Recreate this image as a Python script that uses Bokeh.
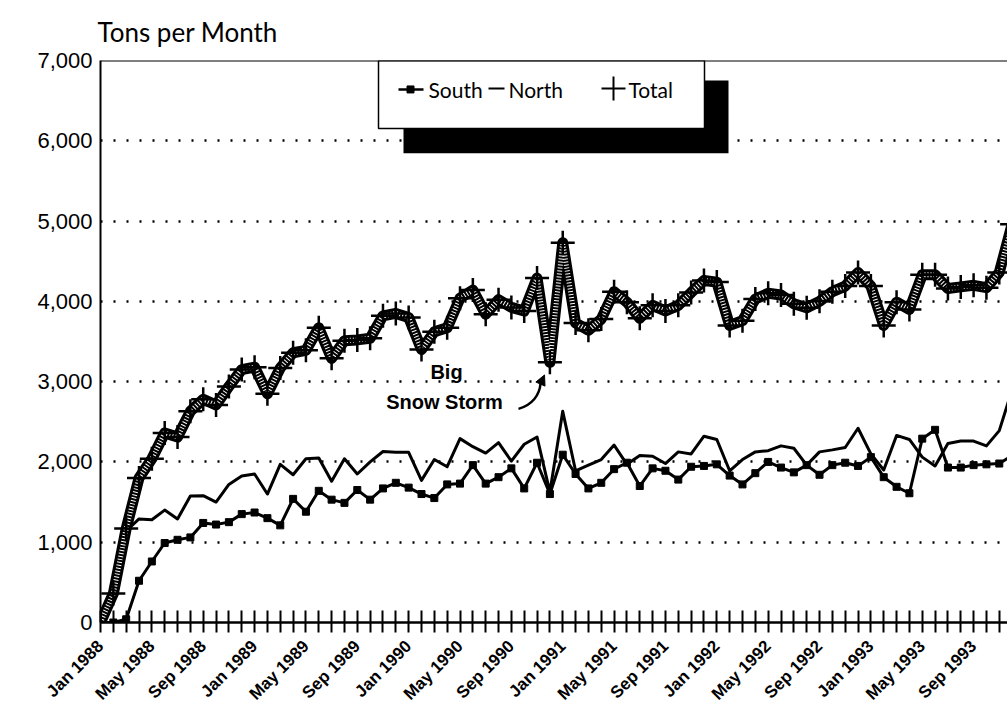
import math
from bokeh.plotting import figure
from bokeh.models import FixedTicker, NumeralTickFormatter, Span, Range1d, Arrow, NormalHead, Label
from bokeh.core.properties import value
from bokeh.embed import file_html
from bokeh.resources import INLINE

# ---------------- data (monthly, Jan 1988 .. Dec 1993) ----------------
tick_labels = ["Jan 1988", "May 1988", "Sep 1988", "Jan 1989", "May 1989", "Sep 1989",
               "Jan 1990", "May 1990", "Sep 1990", "Jan 1991", "May 1991", "Sep 1991",
               "Jan 1992", "May 1992", "Sep 1992", "Jan 1993", "May 1993", "Sep 1993"]

south = [0, 0, 40, 520, 760, 990, 1030, 1060, 1240, 1220,
         1250, 1350, 1370, 1300, 1210, 1540, 1380, 1640, 1530, 1490,
         1650, 1530, 1670, 1740, 1680, 1600, 1550, 1720, 1730, 1960,
         1730, 1810, 1920, 1670, 1990, 1600, 2090, 1850, 1670, 1740,
         1910, 1990, 1700, 1920, 1890, 1780, 1940, 1950, 1970, 1830,
         1720, 1860, 2000, 1930, 1870, 1960, 1840, 1960, 1990, 1950,
         2060, 1810, 1690, 1610, 2290, 2400, 1930, 1930, 1960, 1970,
         1980, 2080]

north = [0, 360, 1140, 1290, 1280, 1400, 1290, 1575, 1580, 1500,
         1720, 1825, 1850, 1600, 1970, 1840, 2040, 2050, 1760, 2040,
         1850, 2000, 2130, 2120, 2120, 1770, 2030, 1940, 2290, 2190,
         2110, 2240, 2010, 2220, 2310, 1625, 2630, 1890, 1960, 2030,
         2210, 1970, 2080, 2070, 1980, 2125, 2100, 2320, 2280, 1890,
         2030, 2125, 2140, 2200, 2170, 1960, 2125, 2150, 2180, 2420,
         2100, 1900, 2330, 2280, 2060, 1950, 2230, 2260, 2260, 2200,
         2390, 2900]

total = [0, 360, 1170, 1800, 2040, 2360, 2310, 2630, 2780, 2710,
         2940, 3150, 3180, 2850, 3170, 3360, 3390, 3670, 3290, 3510,
         3520, 3540, 3820, 3850, 3800, 3400, 3620, 3670, 4040, 4140,
         3840, 4020, 3925, 3880, 4290, 3240, 4730, 3730, 3640, 3780,
         4120, 3990, 3790, 3950, 3880, 3950, 4110, 4260, 4240, 3700,
         3760, 4030, 4100, 4080, 3970, 3920, 4000, 4120, 4190, 4360,
         4190, 3700, 3990, 3900, 4330, 4330, 4160, 4180, 4200, 4170,
         4360, 4960]

months = list(range(len(total)))
label_months = [4 * i for i in range(len(tick_labels))]

# ---------------- layout ----------------
W, H = 1007, 713
FL, FT, FB = 100, 60, 623          # frame edges in picture pixels
XMAX = 70.64
YMAX = 7000
FW = W - FL
FH = FB - FT

def dx(px):
    return (px - FL) / FW * XMAX

def dy(py):
    return (FB - py) / FH * YMAX

p = figure(width=W, height=H, output_backend="svg", toolbar_location=None,
           x_range=Range1d(0, XMAX), y_range=Range1d(0, YMAX),
           min_border_left=FL, min_border_right=0, min_border_top=FT,
           min_border_bottom=H - FB)
p.outline_line_color = None
p.background_fill_color = "white"
p.border_fill_color = "white"

p.title.text = "Tons per Month"
p.title.text_font = "Lato"
p.title.text_font_size = "26px"
p.title.text_font_style = "normal"
p.title.text_color = "black"
p.title.align = "left"
p.title.offset = -3
p.title.standoff = 26

# grid
p.xgrid.visible = False
p.ygrid.ticker = FixedTicker(ticks=[1000, 2000, 3000, 4000, 5000, 6000])
p.ygrid.grid_line_color = "black"
p.ygrid.grid_line_width = 2.5
p.ygrid.grid_line_dash = "2 11"

# y axis
p.yaxis.ticker = FixedTicker(ticks=list(range(0, 7001, 1000)))
p.yaxis.formatter = NumeralTickFormatter(format="0,0")
p.yaxis.major_label_text_font = "Liberation Sans"
p.yaxis.major_label_text_font_size = "22px"
p.yaxis.major_label_text_color = "black"
p.yaxis.major_tick_in = 0
p.yaxis.major_tick_out = 0
p.yaxis.minor_tick_in = 0
p.yaxis.minor_tick_out = 0
p.yaxis.axis_line_width = 2
p.yaxis.axis_line_color = "black"
p.yaxis.major_label_standoff = 8

# x axis: a tick every month (minor ticks), a label every fourth month
p.xaxis.ticker = FixedTicker(ticks=label_months, minor_ticks=months)
p.xaxis.major_label_overrides = {m: lab for m, lab in zip(label_months, tick_labels)}
p.xaxis.major_label_orientation = math.pi / 4
p.xaxis.major_label_text_font = "Liberation Sans"
p.xaxis.major_label_text_font_size = "17px"
p.xaxis.major_label_text_font_style = "bold"
p.xaxis.major_label_text_color = "black"
p.xaxis.major_label_standoff = 11
p.xaxis.major_tick_in = 0
p.xaxis.major_tick_out = 0
p.xaxis.minor_tick_in = 12
p.xaxis.minor_tick_out = 10
p.xaxis.minor_tick_line_width = 2
p.xaxis.minor_tick_line_color = "black"
p.xaxis.axis_line_width = 2.5
p.xaxis.axis_line_color = "black"

p.add_layout(Span(location=YMAX, dimension="width", line_color="black", line_width=2))

# ---------------- series ----------------
p.line(months, north, line_width=3, line_color="black", line_join="round")
p.line(months, south, line_width=3, line_color="black", line_join="round")
p.scatter(months, south, marker="square", size=7, fill_color="black", line_color="black")

p.line(months, total, line_width=11, line_color="black", line_join="round")
p.line(months, total, line_width=5, line_color="white", line_dash="1 2", line_join="round")
p.scatter(months, total, marker="cross", size=24, line_color="black", line_width=2.5)

# ---------------- annotation ----------------
p.add_layout(Label(x=dx(446), y=dy(383), text="Big", text_align="center",
                   text_font="Liberation Sans", text_font_size="20px",
                   text_font_style="bold", text_color="black"))
p.add_layout(Label(x=dx(444), y=dy(413), text="Snow Storm", text_align="center",
                   text_font="Liberation Sans", text_font_size="20px",
                   text_font_style="bold", text_color="black"))
p.bezier(x0=[dx(518)], y0=[dy(409)], x1=[dx(540)], y1=[dy(384)],
         cx0=[dx(532)], cy0=[dy(405)], cx1=[dx(539)], cy1=[dy(395)],
         line_color="black", line_width=2.5)
p.add_layout(Arrow(end=NormalHead(size=10, fill_color="black", line_color="black"),
                   x_start=dx(540), y_start=dy(384), x_end=dx(544), y_end=dy(375),
                   line_color="black", line_width=2.5))

# ---------------- legend (box with drop shadow) ----------------
p.quad(left=[dx(403)], right=[dx(728)], top=[dy(80)], bottom=[dy(153)],
       fill_color="black", line_color=None)
p.quad(left=[dx(378)], right=[dx(704)], top=[YMAX], bottom=[dy(128)],
       fill_color="white", line_color="black", line_width=1.5)
p.line([dx(398), dx(423)], [dy(89), dy(89)], line_width=2.5, line_color="black")
p.scatter([dx(410)], [dy(89)], marker="square", size=7, fill_color="black", line_color="black")
p.line([dx(488), dx(504)], [dy(88), dy(88)], line_width=2, line_color="black")
p.scatter([dx(613)], [dy(88)], marker="cross", size=24, line_color="black", line_width=2)
p.text(x=[dx(428), dx(508), dx(628)], y=[dy(89)] * 3, text=["South", "North", "Total"],
       text_font=value("Lato"), text_font_size="21px", text_color="black",
       text_align="left", text_baseline="middle")

open("out.html", "w").write(file_html(p, INLINE))
